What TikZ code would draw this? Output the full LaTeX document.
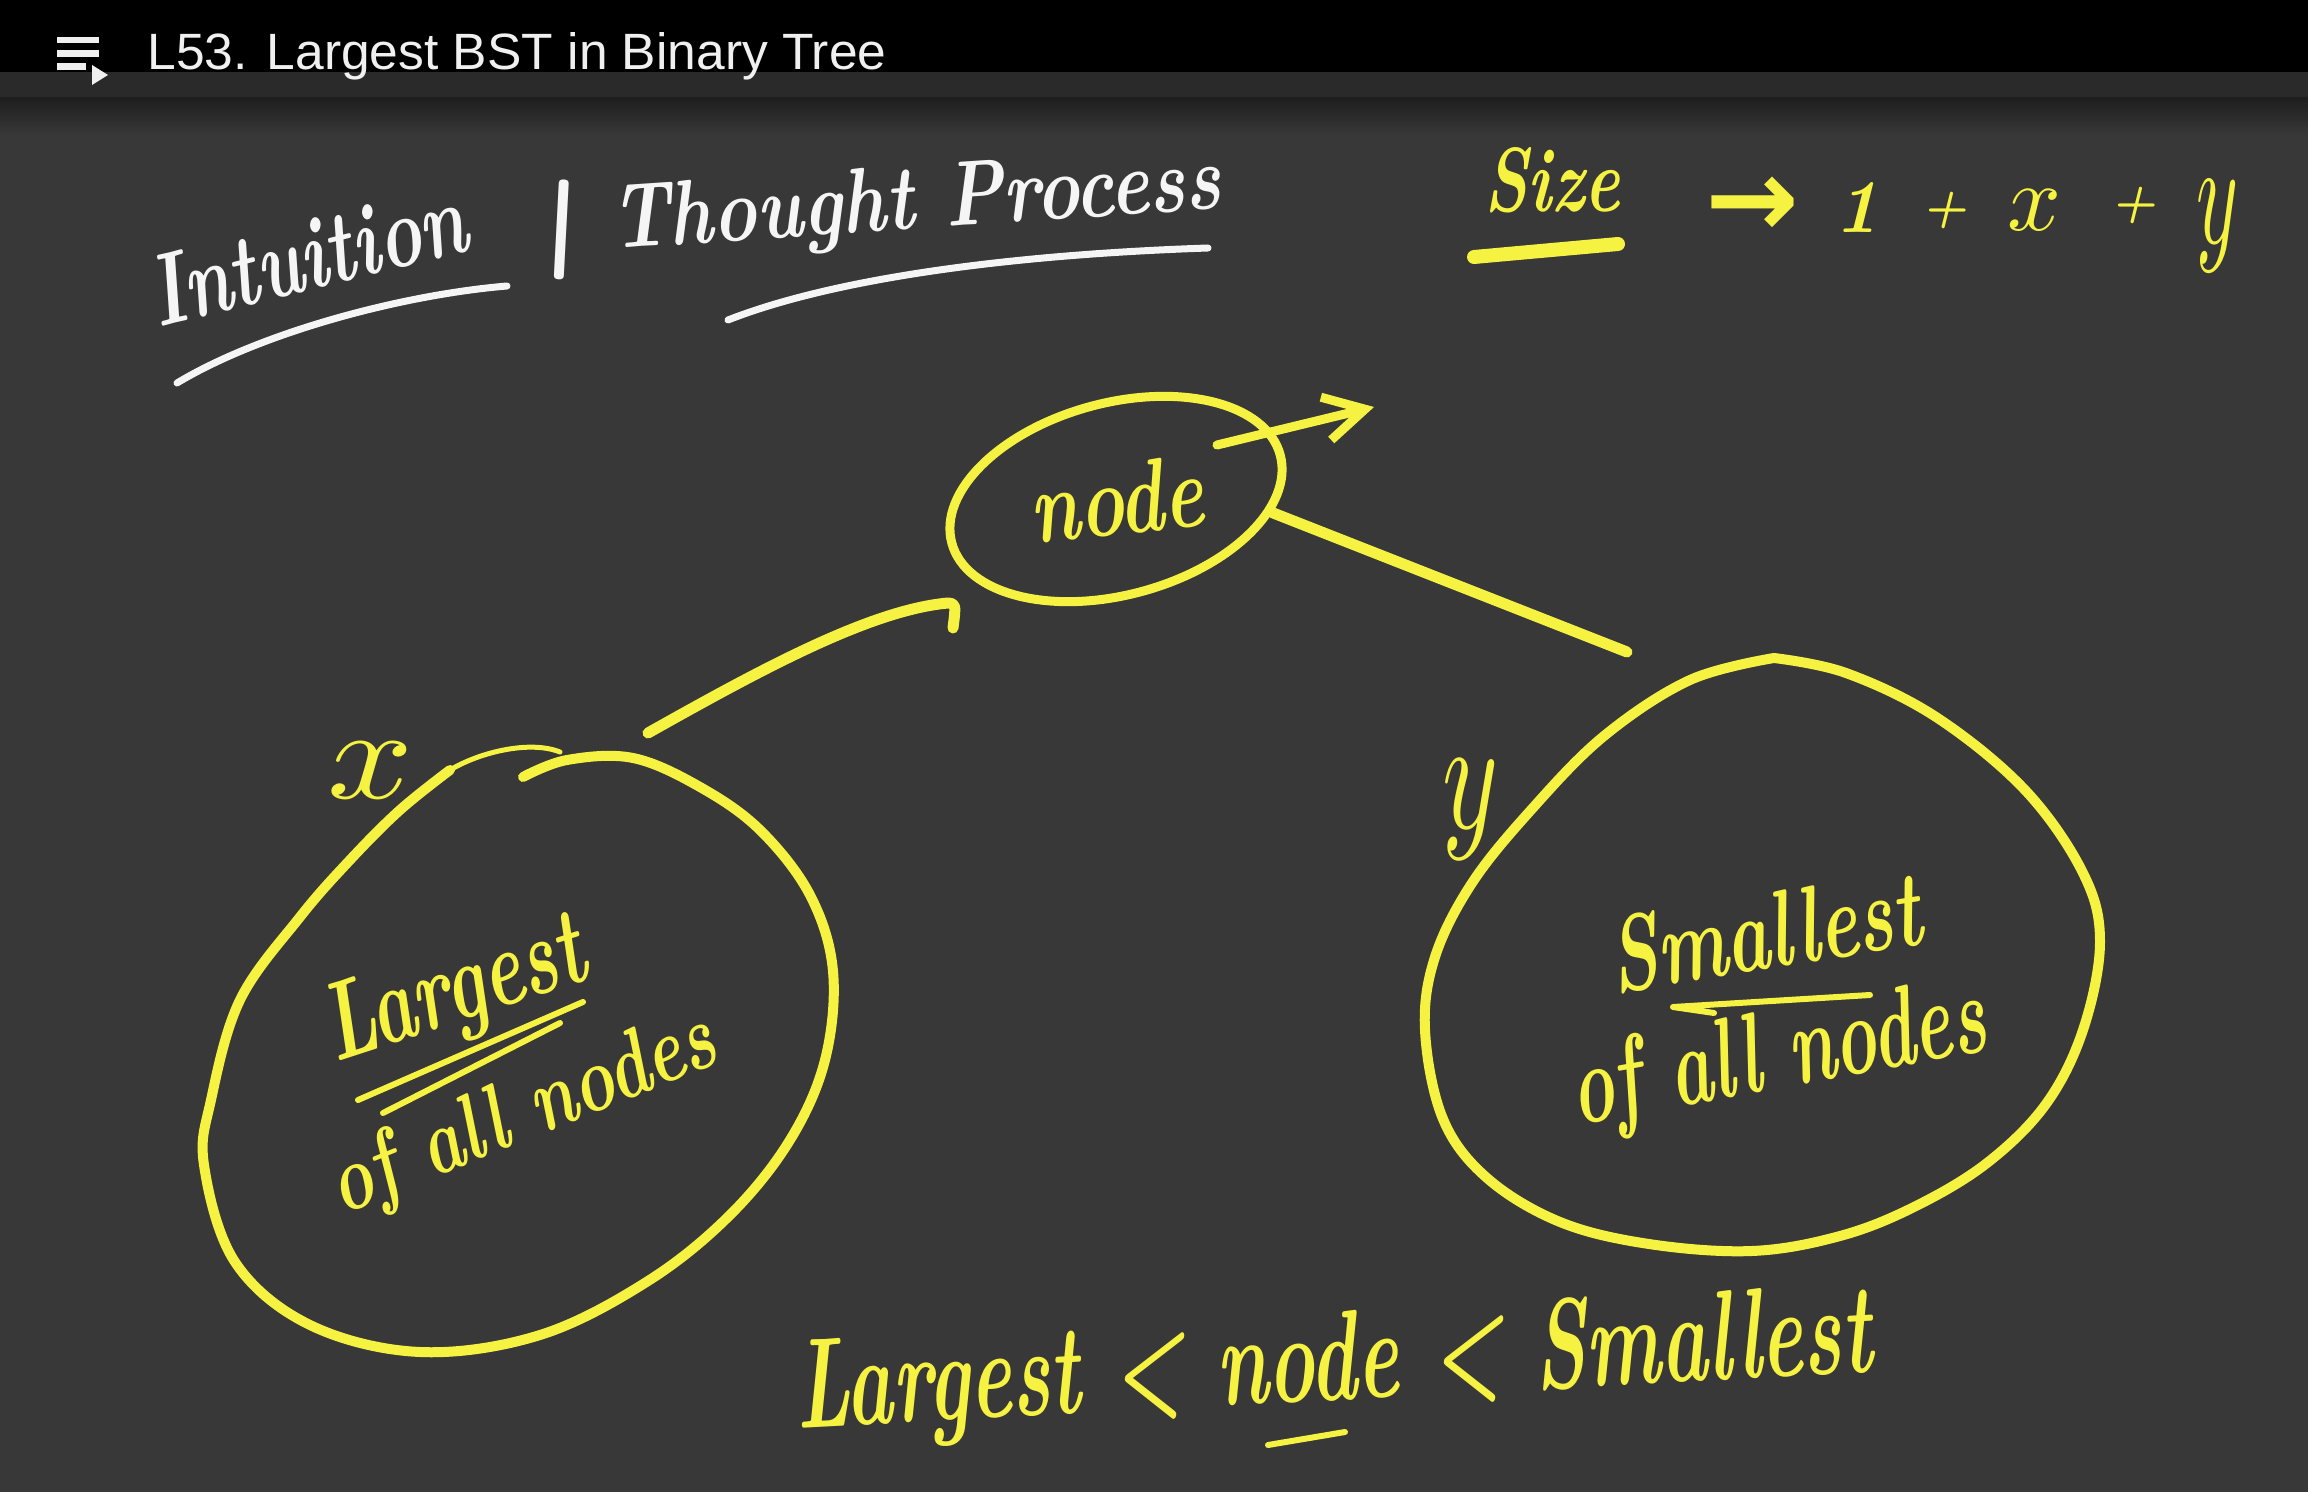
\documentclass[tikz,border=0pt]{standalone}
\usepackage{graphicx}
\usepackage{fontspec}
\usetikzlibrary{shapes.geometric, arrows.meta}
\newfontfamily\titlefont{Liberation Sans}
\newfontfamily\symfont{DejaVu Sans}
\definecolor{bg}{RGB}{56,56,56}
\definecolor{bandgray}{RGB}{42,42,42}
\definecolor{shadowgray}{RGB}{30,30,30}
\definecolor{hy}{RGB}{245,242,66}
\definecolor{chalk}{RGB}{245,245,245}
\definecolor{titlewhite}{RGB}{240,240,240}
\tikzset{
  hw/.style={inner sep=0pt, outer sep=0pt, font=\bfseries\itshape},
  ytext/.style={hw, text=hy},
  wtext/.style={hw, text=chalk},
  ystroke/.style={draw=hy, line width=5pt, line cap=round, line join=round},
  wstroke/.style={draw=chalk, line width=3.5pt, line cap=round},
  thinyellow/.style={draw=hy, line width=3pt, line cap=round, line join=round},
}
\begin{document}
\begin{tikzpicture}[x=0.5pt,y=-0.5pt]
\fill[bg] (0,0) rectangle (2308,1492);
\useasboundingbox (0,0) rectangle (2308,1492);
% header
\fill[black] (0,0) rectangle (2308,72);
\fill[bandgray] (0,72) rectangle (2308,98);
\shade[top color=shadowgray, bottom color=bg] (0,98) rectangle (2308,135);
\fill[titlewhite] (57,37) rectangle (99,43);
\fill[titlewhite] (57,50) rectangle (99,57);
\fill[titlewhite] (57,63) rectangle (86,70);
\fill[titlewhite] (92,65) -- (108,75) -- (92,85) -- cycle;
\node[anchor=base west, inner sep=0pt, text=titlewhite] (title) at (147,70)
  {\resizebox{369.5pt}{18.5pt}{\titlefont L53. Largest BST in Binary Tree}};
% heading
\node[wtext, anchor=base west, rotate=14] (intu) at (158,328) {\resizebox{162pt}{35pt}{Intuition}};
\node[wtext, rotate=-3] (bar) at (562,230) {\resizebox*{26pt}{50pt}{\upshape |}};
\node[wtext, anchor=base west, rotate=3.8] (thought) at (612,249) {\resizebox{306pt}{32pt}{Thought Process}};
\draw[wstroke] (177,383) .. controls (260,333) and (400,295) .. (507,286);
\draw[wstroke] (728,320) .. controls (830,280) and (1000,255) .. (1208,248);
% size formula
\node[ytext, anchor=base west] (size) at (1484,212) {\resizebox{68pt}{32pt}{Size}};
\draw[ystroke, line width=7pt] (1474,257) -- (1618,244);
\node[ytext] (arr) at (1752,207) {\resizebox{47pt}{!}{\symfont\bfseries →}};
\node[ytext, anchor=base] (one) at (1857,233) {\resizebox*{!}{25pt}{1}};
\node[ytext] (plusa) at (1944,210) {\resizebox{23pt}{!}{+}};
\node[ytext] (xs) at (2034,210) {\resizebox{27pt}{!}{$x$}};
\node[ytext] (plusb) at (2133,205) {\resizebox{23pt}{!}{+}};
\node[ytext, anchor=north] (ys) at (2217,180) {\resizebox*{21pt}{46pt}{$y$}};
% root node
\node[ellipse, draw=hy, line width=4.5pt, minimum width=170pt, minimum height=96pt,
      inner sep=0pt, rotate=15, text=hy, font=\bfseries\itshape] (root) at (1116,499)
  {\rotatebox{-9}{\resizebox{87pt}{36pt}{node}}};
\coordinate (ao1) at (1217,445);
\coordinate (ao2) at (1374,407);
\draw[ystroke, line width=4.5pt, -{Straight Barb[length=20pt, width=22pt]}] (ao1) -- (ao2);
% connectors
\coordinate (rc) at (1627,652);
\draw[ystroke, line width=5.5pt] (root.-20) -- (rc);
\coordinate (lc) at (648,733);
\coordinate (hk1) at (948,603);
\coordinate (hk2) at (953,628);
\draw[ystroke, line width=5.5pt] (lc) .. controls (760,670) and (870,610) .. (hk1) .. controls (956,604) .. (hk2);
% left subtree
\draw[ystroke] plot[smooth, tension=0.6] coordinates {(523,777) (567,760) (633,758) (700,787) (760,830) (810,895) (833,971) (825,1060) (790,1140) (730,1215) (648,1281) (540,1335) (420,1352) (310,1325) (235,1262) (204,1165) (211,1100) (240,1000) (300,917) (350,860) (400,810) (450,770)};
\draw[ystroke, line width=2.5pt] (450,770) .. controls (480,752) and (530,740) .. (560,752);
\node[ytext] (xl) at (370,770) {\resizebox{43pt}{28pt}{$x$}};
\node[ytext, anchor=base west, rotate=18] (lgst) at (335,1062) {\resizebox{135pt}{38pt}{Largest}};
\draw[thinyellow] (358,1100) -- (583,1002);
\draw[thinyellow] (383,1113) -- (560,1023);
\node[ytext, anchor=base west, rotate=22] (lall) at (342,1215) {\resizebox{205pt}{33pt}{of all nodes}};
% right subtree
\draw[ystroke] plot[smooth, tension=0.6] coordinates {(1774,658) (1846,673) (1936,717) (2025,790) (2083,873) (2100,942) (2083,1030) (2046,1104) (1987,1163) (1914,1207) (1840,1236) (1752,1251) (1649,1244) (1560,1222) (1487,1178) (1443,1119) (1425,1030) (1435,957) (1472,883) (1531,810) (1604,736) (1690,680) (1774,658)};
\node[ytext] (yl) at (1470,810) {\resizebox*{28pt}{50pt}{$y$}};
\node[ytext, anchor=base west, rotate=9] (smst) at (1615,993) {\resizebox{157pt}{38pt}{Smallest}};
\draw[thinyellow] (1870,995) -- (1673,1007) -- (1714,1013);
\node[ytext, anchor=base west, rotate=10.3] (rall) at (1577,1125) {\resizebox{210pt}{40pt}{of all nodes}};
% bottom inequality
\node[ytext, anchor=base west, rotate=3] (ineq) at (797,1428) {\resizebox{539pt}{45pt}{Largest < node < Smallest}};
\draw[thinyellow] (1268,1445) -- (1345,1432);
\end{tikzpicture}
\end{document}
